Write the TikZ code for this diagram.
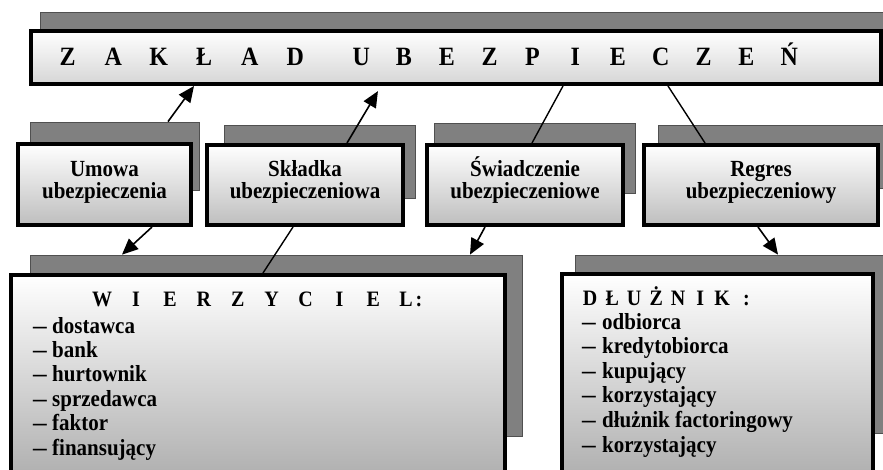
\documentclass[tikz,border=0pt]{standalone}
\usepackage{fontspec}
\setmainfont{Liberation Serif}
\usetikzlibrary{arrows.meta,calc}

% letters set in equal-width cells, for the spaced-out headings
\newcommand\spreadwidth{}
\newcommand\lettersin[2]{\def\spreadwidth{#1}\letterstep#2\relax}
\def\letterstep#1{\ifx#1\relax\else\makebox[\spreadwidth]{#1}\expandafter\letterstep\fi}

% the lettering is set slightly tall
\newcommand\tallset[1]{\scalebox{1}[1.1]{#1}}
% two centred lines whose baseline is the first line
\newcommand\twolines[2]{\tallset{\parbox[t]{170pt}{\centering #1\\#2}}}
\newcommand\bullitem{\makebox[19pt][l]{\scalebox{1.3}[1]{–}}}

\definecolor{shadowgray}{RGB}{128,128,128}
\definecolor{shadowedge}{RGB}{80,80,80}
\definecolor{fadetitle}{RGB}{214,214,214}
\definecolor{fademid}{RGB}{190,190,190}
\definecolor{fadelow}{RGB}{166,166,166}

\tikzset{
  shadowbox/.style={rectangle, draw=shadowedge, line width=0.8pt, fill=shadowgray, inner sep=0pt},
  mainbox/.style={rectangle, draw=black, line width=4pt, top color=white, inner sep=0pt},
  midtext/.style={anchor=base, inner sep=0pt, font=\fontsize{21}{20.9}\selectfont\bfseries},
  listtext/.style={anchor=base west, inner sep=0pt},
  arr/.style={line width=1.6pt, -{Triangle[length=16pt,width=14pt]}},
  link/.style={line width=1.4pt},
}

\begin{document}
\begin{tikzpicture}[x=1pt,y=-1pt]
\useasboundingbox (0,0) rectangle (883,469);
\clip (0,0) rectangle (883,469);

% ---- top box
\node[shadowbox, minimum width=843pt, minimum height=23pt] (zaks) at (461.5,23.5) {};
\node[mainbox, bottom color=fadetitle, minimum width=850pt, minimum height=53pt] (zak) at (456,57.5) {};
\node[anchor=base west, inner sep=0pt, font=\fontsize{24}{28}\selectfont\bfseries] (zaktext) at (44.75,65.5)
  {\tallset{\lettersin{45.5pt}{ZAKŁAD}\hspace{21.85pt}\lettersin{42.8pt}{UBEZPIECZEŃ}}};

% ---- middle row: shadows
\node[shadowbox, minimum width=169pt, minimum height=68pt] (ums) at (114.5,156) {};
\node[shadowbox, minimum width=191pt, minimum height=73pt] (sks) at (319.5,161.5) {};
\node[shadowbox, minimum width=201pt, minimum height=70pt] (sws) at (534.5,158) {};
\node[shadowbox, minimum width=232pt, minimum height=63pt] (rgs) at (774,156.5) {};

% ---- bottom row: shadows
\node[shadowbox, minimum width=492pt, minimum height=181pt] (wis) at (276,345.5) {};
\node[shadowbox, minimum width=315pt, minimum height=178pt] (dls) at (732.5,344) {};

% ---- middle row: boxes
\node[mainbox, bottom color=fademid, minimum width=173pt, minimum height=81pt] (um) at (104.5,184.5) {};
\node[mainbox, bottom color=fademid, minimum width=196pt, minimum height=80pt] (sk) at (305,185) {};
\node[mainbox, bottom color=fademid, minimum width=196pt, minimum height=80pt] (sw) at (525,185) {};
\node[mainbox, bottom color=fademid, minimum width=234pt, minimum height=80pt] (rg) at (761,185) {};

\node[midtext] (umtext) at (104.5,176) {\twolines{Umowa}{ubezpieczenia}};
\node[midtext] (sktext) at (305,176) {\twolines{Składka}{ubezpieczeniowa}};
\node[midtext] (swtext) at (525,176) {\twolines{Świadczenie}{ubezpieczeniowe}};
\node[midtext] (rgtext) at (761,176) {\twolines{Regres}{ubezpieczeniowy}};

% ---- bottom row: boxes
\node[mainbox, bottom color=fadelow, minimum width=494pt, minimum height=225pt] (wi) at (258,387.5) {};
\node[mainbox, bottom color=fadelow, minimum width=311pt, minimum height=226pt] (dl) at (717.5,387) {};

\node[listtext, font=\fontsize{20}{23}\selectfont\bfseries] (wihead) at (85,306.5)
  {\tallset{\lettersin{33.9pt}{WIERZYCIE}\hspace{9pt}L\hspace{3pt}:}};
\node[listtext] (wilist) at (33,333) {\tallset{\parbox[t]{400pt}{\fontsize{21}{22.2}\selectfont\bfseries
  \bullitem dostawca\\
  \bullitem bank\\
  \bullitem hurtownik\\
  \bullitem sprzedawca\\
  \bullitem faktor\\
  \bullitem finansujący}}};

\node[listtext, font=\fontsize{20}{23}\selectfont\bfseries] (dlhead) at (579,305)
  {\tallset{\lettersin{22pt}{DŁUŻNIK}\hspace{10pt}:}};
\node[listtext] (dllist) at (582,329) {\tallset{\parbox[t]{280pt}{\fontsize{21}{22.4}\selectfont\bfseries
  \bullitem\hspace{1pt}odbiorca\\
  \bullitem\hspace{1pt}kredytobiorca\\
  \bullitem\hspace{1pt}kupujący\\
  \bullitem\hspace{1pt}korzystający\\
  \bullitem\hspace{1pt}dłużnik factoringowy\\
  \bullitem\hspace{1pt}korzystający}}};

% ---- connectors
\draw[arr] (168,0 |- ums.north) -- (194,0 |- zak.south);
\draw[arr, shorten >=6pt] (347,0 |- sk.north) -- (381,0 |- zak.south);
\draw[link] (563,0 |- zak.south) -- (532,0 |- sw.north);
\draw[link] (668,0 |- zak.south) -- (705,0 |- rg.north);

\draw[arr] (152,0 |- um.south) -- (122,0 |- wis.north);
\draw[link] (293,0 |- sk.south) -- (263,0 |- wi.north);
\draw[arr] (485,0 |- sw.south) -- (470,0 |- wis.north);
\draw[arr] (758,0 |- rg.south) -- (778,0 |- dls.north);
\end{tikzpicture}
\end{document}
